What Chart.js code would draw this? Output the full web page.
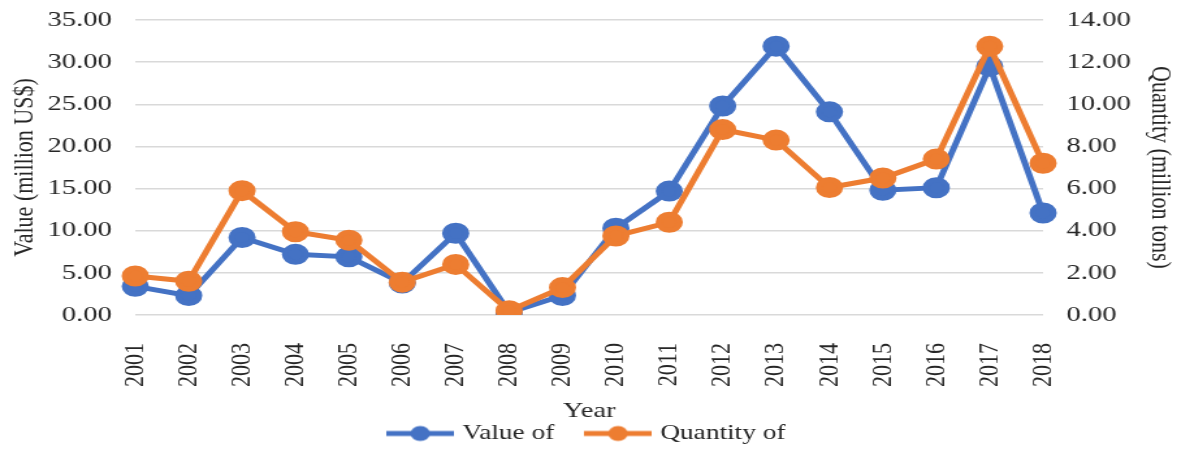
<!DOCTYPE html>
<html>
<head>
<meta charset="utf-8">
<script src="https://cdn.jsdelivr.net/npm/chart.js@4/dist/chart.umd.min.js"></script>
<style>
  html, body { margin: 0; padding: 0; background: #fff; overflow: hidden; }
  #wrap { width: 905px; height: 454px; transform: scaleX(1.3006); transform-origin: 0 0; }
</style>
</head>
<body>
<div id="wrap"><canvas id="chart"></canvas></div>
<script>
var years = ['2001', '2002', '2003', '2004', '2005', '2006', '2007', '2008', '2009',
  '2010', '2011', '2012', '2013', '2014', '2015', '2016', '2017', '2018']
var valueOf = [3.4, 2.3, 9.2, 7.2, 6.9, 3.8, 9.7, 0.3, 2.3, 10.3, 14.7, 24.8, 31.9, 24.1, 14.8, 15.1, 29.5, 12.1]
var quantityOf = [1.85, 1.6, 5.9, 3.95, 3.55, 1.56, 2.4, 0.2, 1.3, 3.75, 4.4, 8.8, 8.3, 6.05, 6.5, 7.4, 12.75, 7.2]
var seriesNames = ['Value of', 'Quantity of']

var BLUE = '#4472C4'
var ORANGE = '#ED7D31'
var TEXT = '#262626'
var FONT = "'Liberation Serif', 'Times New Roman', serif"

// little line + dot sample, like the excel legend
function legendMarker (color) {
  var c = document.createElement('canvas')
  c.width = 52
  c.height = 18
  var ctx = c.getContext('2d')
  ctx.strokeStyle = color
  ctx.lineWidth = 5
  ctx.beginPath()
  ctx.moveTo(0, 9)
  ctx.lineTo(52, 9)
  ctx.stroke()
  ctx.fillStyle = color
  ctx.beginPath()
  ctx.arc(26, 9, 7.5, 0, Math.PI * 2)
  ctx.fill()
  return c
}

var markers = [legendMarker(BLUE), legendMarker(ORANGE)]

// keep the plot top at the 35.00 line instead of label height + tick padding
function topPad (s) { s.paddingTop = 20 }

var chart = new Chart(document.getElementById('chart'), {
  type: 'line',
  data: {
    labels: years,
    datasets: [
      {
        label: seriesNames[0],
        data: valueOf,
        yAxisID: 'y',
        borderColor: BLUE,
        backgroundColor: BLUE,
        borderWidth: 5,
        pointRadius: 8,
        pointHoverRadius: 8,
        order: 2
      },
      {
        label: seriesNames[1],
        data: quantityOf,
        yAxisID: 'y1',
        borderColor: ORANGE,
        backgroundColor: ORANGE,
        borderWidth: 5,
        pointRadius: 8,
        pointHoverRadius: 8,
        order: 1
      }
    ]
  },
  options: {
    responsive: true,
    maintainAspectRatio: false,
    animation: false,
    layout: { padding: { top: 0, left: 0, right: 0, bottom: 1 } },
    plugins: {
      tooltip: { enabled: false },
      legend: {
        position: 'bottom',
        maxHeight: 57,
        labels: {
          usePointStyle: true,
          pointStyleWidth: 44,
          padding: 27,
          color: TEXT,
          font: { family: FONT, size: 21 },
          generateLabels: function (c) {
            return c.data.datasets.map(function (ds, i) {
              return {
                text: ds.label,
                pointStyle: markers[i],
                fontColor: TEXT,
                hidden: false,
                datasetIndex: i,
                lineWidth: 0
              }
            })
          }
        }
      }
    },
    scales: {
      x: {
        grid: { display: false },
        border: { display: false },
        ticks: {
          color: TEXT,
          font: { family: FONT, size: 22 },
          minRotation: 90,
          maxRotation: 90,
          padding: 20
        },
        title: {
          display: true,
          text: 'Year',
          color: TEXT,
          font: { family: FONT, size: 22 },
          padding: { top: 0, bottom: -28 }
        },
        afterFit: function (s) { s.height = 81 }
      },
      y: {
        position: 'left',
        min: 0,
        max: 35,
        grid: { color: '#D9D9D9', lineWidth: 1.5, drawTicks: false },
        border: { display: false },
        ticks: {
          stepSize: 5,
          color: TEXT,
          padding: 18,
          font: { family: FONT, size: 22 },
          callback: function (v) { return v.toFixed(2) }
        },
        title: {
          display: true,
          text: 'Value (million US$)',
          color: TEXT,
          font: { family: FONT, size: 22 },
          padding: { top: 6, bottom: 0 }
        },
        afterFit: function (s) { s.width = 104; topPad(s) }
      },
      y1: {
        position: 'right',
        min: 0,
        max: 14,
        grid: { drawOnChartArea: false, drawTicks: false },
        border: { display: false },
        ticks: {
          stepSize: 2,
          color: TEXT,
          padding: 18,
          font: { family: FONT, size: 22 },
          callback: function (v) { return v.toFixed(2) }
        },
        title: {
          display: true,
          text: 'Quantity (million tons)',
          color: TEXT,
          font: { family: FONT, size: 22 },
          padding: { top: 0, bottom: 0 }
        },
        afterFit: function (s) { s.width = 103; topPad(s) }
      }
    }
  }
})
</script>
</body>
</html>
